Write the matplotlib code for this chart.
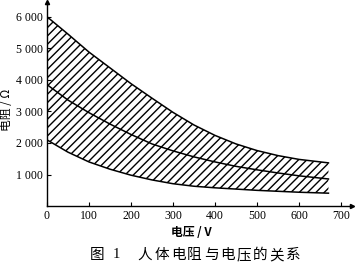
import numpy as np
import matplotlib
matplotlib.use("Agg")
from matplotlib import pyplot as plt

# 电压 (V) 与人体电阻 (Ω) 的读数
voltage = [0, 50, 100, 150, 200, 250, 300, 350, 400, 450, 500, 550, 600, 670]
r_upper = [6000, 5450, 4880, 4380, 3880, 3420, 2970, 2570, 2240, 1970, 1760, 1600, 1480, 1370]
r_middle = [3850, 3360, 2960, 2600, 2270, 1970, 1750, 1560, 1400, 1260, 1150, 1050, 960, 860]
r_lower = [2100, 1710, 1400, 1170, 980, 830, 710, 630, 580, 540, 500, 470, 440, 410]

x_ticks = [0, 100, 200, 300, 400, 500, 600, 700]
y_ticks = [1000, 2000, 3000, 4000, 5000, 6000]
y_ticklabels = ["1 000", "2 000", "3 000", "4 000", "5 000", "6 000"]

cjk = ['Noto Sans CJK SC', 'DejaVu Sans']
serif = 'Liberation Serif'

fig = plt.figure(figsize=(3.61, 2.67), dpi=100)
ax = fig.add_axes([0.130, 0.228, 0.845, 0.765])

#阴影区域
ax.fill_between(voltage, r_lower, r_upper, facecolor='none', edgecolor='black',
                hatch='////', linewidth=0)
for r in (r_upper, r_middle, r_lower):
    ax.plot(voltage, r, color='black', lw=1.1)

ax.set_xlim(0, 726)
ax.set_ylim(0, 6470)
ax.spines['top'].set_visible(False)
ax.spines['right'].set_visible(False)
ax.spines['left'].set_linewidth(1.0)
ax.spines['bottom'].set_linewidth(1.0)

#坐标轴箭头
ax.plot(1, 0, '>', color='black', ms=3, transform=ax.transAxes, clip_on=False)
ax.plot(0, 1, '^', color='black', ms=3, transform=ax.transAxes, clip_on=False)

ax.set_xticks(x_ticks)
ax.set_xticklabels([str(v) for v in x_ticks], family=serif, fontsize=8.5)
ax.set_yticks(y_ticks)
ax.set_yticklabels(y_ticklabels, family=serif, fontsize=8.5)
ax.tick_params(direction='in', length=3, width=0.8, pad=3)

fig.text(7 / 361, 1 - 110 / 267, "电阻 / Ω", rotation=90, ha='center', va='center',
         family=cjk, fontsize=8.5)
fig.text(191 / 361, 1 - 232 / 267, "电压 / V", ha='center', va='center',
         family=cjk, fontsize=8.5, weight='bold')

#图题，字间距较宽，逐字放置
fig.text(97 / 361, 1 - 255 / 267, "图", ha='center', va='center', family=cjk, fontsize=10.5)
fig.text(116 / 361, 1 - 255 / 267, "1", ha='center', va='center', family=serif, fontsize=10.5)
caption = "人体电阻与电压的关系"
for i, ch in enumerate(caption):
    fig.text((145 + i * 16.5) / 361, 1 - 255 / 267, ch, ha='center', va='center',
             family=cjk, fontsize=10.5)

fig.savefig("out.png", dpi=100)
